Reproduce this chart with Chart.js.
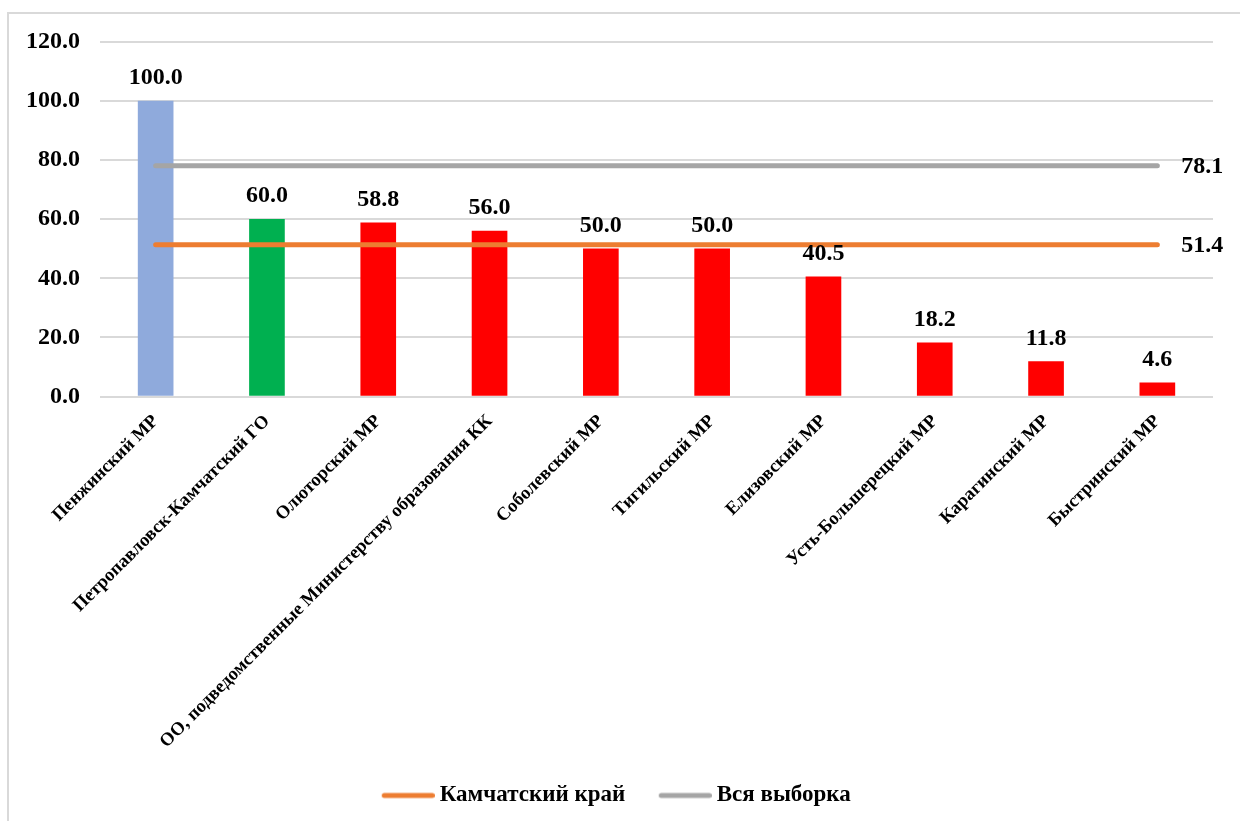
<!DOCTYPE html>
<html lang="ru">
<head>
    <meta charset="UTF-8">
    <title>Chart</title>
    <style>
        html, body { margin: 0; padding: 0; background: #fff; overflow: hidden; }
        #wrap { position: relative; width: 1240px; height: 821px; }
        #frame { position: absolute; left: 7px; top: 12px; width: 1300px; height: 900px; border: 2px solid #d9d9d9; box-sizing: border-box; }
        #myChart { position: absolute; left: 0; top: 0; }
    </style>
</head>
<body>
    <div id="wrap">
        <div id="frame"></div>
        <canvas id="myChart" width="1240" height="821"></canvas>
    </div>

    <script src="https://cdn.jsdelivr.net/npm/chart.js"></script>

    <script>
        // районы
        let labels = [
            'Пенжинский МР',
            'Петропавловск-Камчатский ГО',
            'Олюторский МР',
            'ОО, подведомственные Министерству образования КК',
            'Соболевский МР',
            'Тигильский МР',
            'Елизовский МР',
            'Усть-Большерецкий МР',
            'Карагинский МР',
            'Быстринский МР'
        ];
        let values = [100.0, 60.0, 58.8, 56.0, 50.0, 50.0, 40.5, 18.2, 11.8, 4.6];
        let barColors = ['#8faadc', '#00b050', '#ff0000', '#ff0000', '#ff0000', '#ff0000', '#ff0000', '#ff0000', '#ff0000', '#ff0000'];

        let kamchatka = [51.4, 51.4, 51.4, 51.4, 51.4, 51.4, 51.4, 51.4, 51.4, 51.4];
        let allSample = [78.1, 78.1, 78.1, 78.1, 78.1, 78.1, 78.1, 78.1, 78.1, 78.1];

        let yTicks = [0, 20, 40, 60, 80, 100, 120];

        const FONT = "'Liberation Serif', 'Times New Roman', serif";
        const LEGEND_FONT = 23;
        const BOX_W = 48;

        // маленькая картинка линии для легенды (чтобы текст стоял ближе к линии)
        function legendLine(color) {
            let w = BOX_W + LEGEND_FONT - 10;
            let c = document.createElement('canvas');
            c.width = w;
            c.height = 8;
            let g = c.getContext('2d');
            g.strokeStyle = color;
            g.lineWidth = 5;
            g.lineCap = 'round';
            g.beginPath();
            g.moveTo(w - 53 + 2.5, 4);
            g.lineTo(w - 2.5, 4);
            g.stroke();
            return c;
        }

        // подписи значений
        const valueLabels = {
            id: 'valueLabels',
            afterDatasetsDraw(chart) {
                const ctx = chart.ctx;
                ctx.save();
                ctx.fillStyle = '#000';
                ctx.font = 'bold 24px ' + FONT;

                chart.getDatasetMeta(0).data.forEach((el, i) => {
                    ctx.textAlign = 'center';
                    ctx.textBaseline = 'alphabetic';
                    ctx.fillText(values[i].toFixed(1), el.x, el.y - 17);
                });

                [1, 2].forEach(d => {
                    let meta = chart.getDatasetMeta(d);
                    let last = meta.data[meta.data.length - 1];
                    let v = chart.data.datasets[d].data[meta.data.length - 1];
                    ctx.textAlign = 'left';
                    ctx.textBaseline = 'middle';
                    ctx.fillText(v.toFixed(1), last.x + 24, last.y + 1);
                });
                ctx.restore();
            }
        };

        const ctx = document.getElementById('myChart');

        let chart = new Chart(ctx, {
            data: {
                labels: labels,
                datasets: [
                    {
                        type: 'bar',
                        label: 'values',
                        data: values,
                        backgroundColor: barColors,
                        barThickness: 35,
                        order: 3
                    },
                    {
                        type: 'line',
                        label: 'Камчатский край',
                        data: kamchatka,
                        borderColor: '#ed7d31',
                        backgroundColor: '#ed7d31',
                        borderWidth: 5,
                        borderCapStyle: 'round',
                        pointRadius: 0,
                        pointHoverRadius: 0,
                        pointStyle: legendLine('#ed7d31'),
                        order: 1
                    },
                    {
                        type: 'line',
                        label: 'Вся выборка',
                        data: allSample,
                        borderColor: '#a5a5a5',
                        backgroundColor: '#a5a5a5',
                        borderWidth: 5,
                        borderCapStyle: 'round',
                        pointRadius: 0,
                        pointHoverRadius: 0,
                        pointStyle: legendLine('#a5a5a5'),
                        order: 2
                    }
                ]
            },
            options: {
                responsive: false,
                animation: false,
                layout: {
                    padding: { top: 42, right: 27, bottom: 4, left: 18 }
                },
                scales: {
                    x: {
                        grid: { display: false, drawTicks: false },
                        border: { display: false },
                        ticks: {
                            color: '#000',
                            font: { family: FONT, size: 18.5, weight: 'bold' },
                            maxRotation: 45,
                            minRotation: 45,
                            autoSkip: false,
                            padding: 14
                        },
                        afterFit(scale) {
                            scale.height = 355.5;
                        }
                    },
                    y: {
                        min: 0,
                        max: 120,
                        afterBuildTicks(scale) {
                            scale.ticks = yTicks.map(v => ({ value: v }));
                        },
                        grid: { color: '#d9d9d9', lineWidth: 2, drawTicks: false },
                        border: { display: false },
                        ticks: {
                            color: '#000',
                            font: { family: FONT, size: 24, weight: 'bold' },
                            padding: 20,
                            callback: v => Number(v).toFixed(1)
                        },
                        afterFit(scale) {
                            scale.width = 82;
                        }
                    }
                },
                plugins: {
                    legend: {
                        position: 'bottom',
                        labels: {
                            filter: item => item.datasetIndex !== 0,
                            color: '#000',
                            font: { family: FONT, size: LEGEND_FONT, weight: 'bold' },
                            usePointStyle: true,
                            pointStyleWidth: BOX_W,
                            boxHeight: LEGEND_FONT,
                            padding: 32
                        }
                    },
                    tooltip: { enabled: false }
                }
            },
            plugins: [valueLabels]
        });
    </script>
</body>
</html>
